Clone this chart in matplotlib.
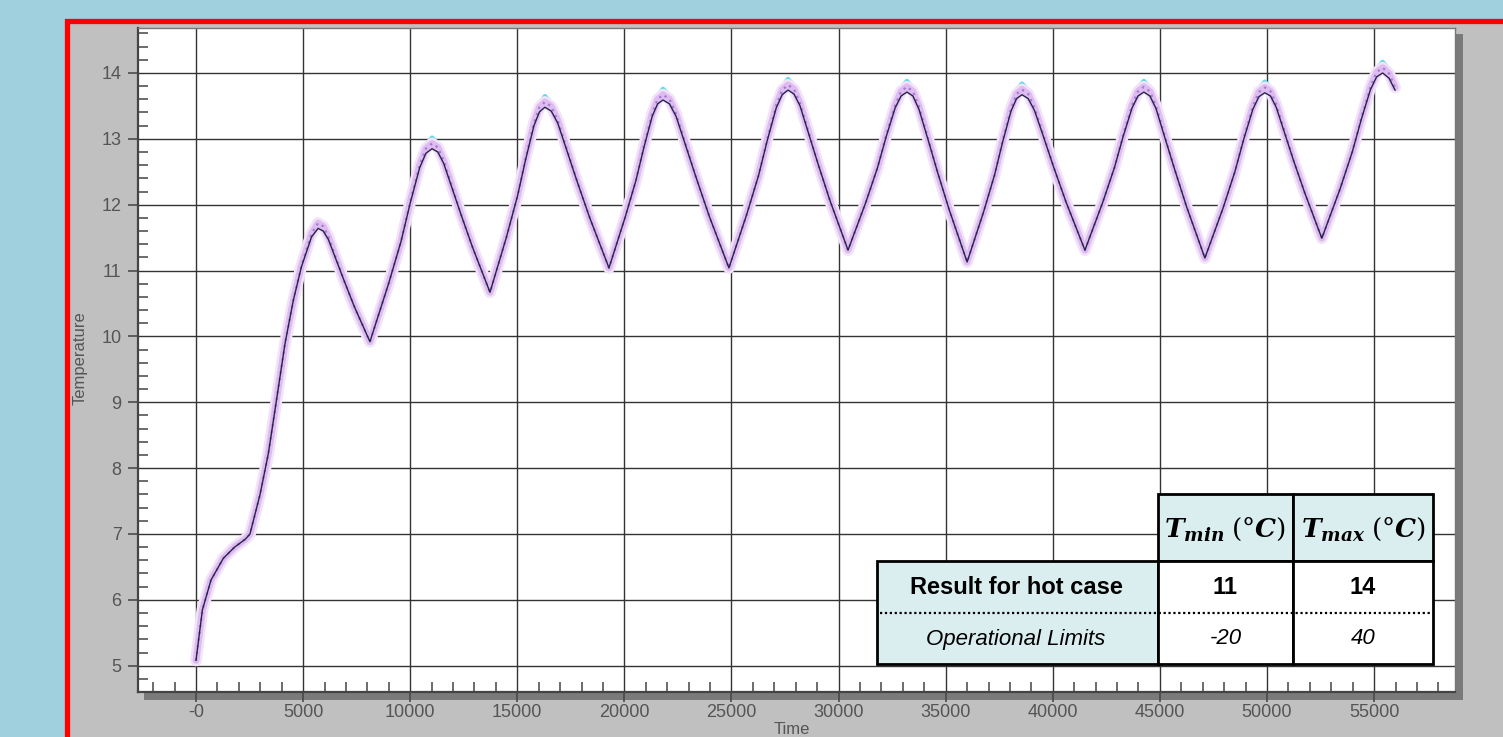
import matplotlib
matplotlib.use("Agg")
import matplotlib.pyplot as plt
from matplotlib.patches import Rectangle
from matplotlib.ticker import MultipleLocator, FuncFormatter

plt.rcParams["font.family"] = ["Liberation Sans", "DejaVu Sans"]
plt.rcParams["mathtext.fontset"] = "dejavuserif"

# simulation time (s) and node temperatures
TIME_S = [
    0, 300, 700, 1275, 1800, 2300, 2520, 2990, 3377, 3757, 4155, 4545, 4925, 5392,
    5700, 5942, 6184, 6547, 6910, 7394, 8120, 8990, 9570, 10005, 10440, 10730,
    11020, 11290, 11561, 11967, 12373, 12914, 13725, 14495, 15008, 15392, 15777, 16034,
    16290, 16589, 16888, 17337, 17785, 18383, 19280, 20036, 20540, 20918, 21296, 21548,
    21800, 22108, 22416, 22878, 23340, 23956, 24880, 25708, 26260, 26674, 27088, 27364,
    27640, 27920, 28200, 28620, 29040, 29600, 30440, 31265, 31815, 32228, 32640, 32915,
    33190, 33471, 33752, 34174, 34595, 35157, 36000, 36768, 37280, 37664, 38048, 38304,
    38560, 38854, 39148, 39589, 40030, 40618, 41500, 42325, 42875, 43288, 43700, 43975,
    44250, 44535, 44820, 45248, 45675, 46245, 47100, 47940, 48500, 48920, 49340, 49620,
    49900, 50166, 50432, 50831, 51230, 51762, 52560, 53412, 53980, 54406, 54832, 55116,
    55400, 55700, 55980,
]
T_DARK = [
    5.08, 5.85, 6.30, 6.63, 6.80, 6.92, 7.00, 7.60, 8.22, 9.03, 9.89, 10.55, 11.06, 11.51,
    11.64, 11.60, 11.47, 11.16, 10.85, 10.45, 9.92, 10.80, 11.44, 12.03, 12.56, 12.78,
    12.85, 12.80, 12.63, 12.24, 11.85, 11.35, 10.67, 11.51, 12.13, 12.69, 13.20, 13.41,
    13.48, 13.42, 13.24, 12.80, 12.36, 11.80, 11.04, 11.81, 12.37, 12.88, 13.34, 13.53,
    13.59, 13.53, 13.34, 12.88, 12.42, 11.83, 11.04, 11.85, 12.44, 12.98, 13.47, 13.67,
    13.74, 13.68, 13.50, 13.06, 12.62, 12.06, 11.31, 12.03, 12.56, 13.04, 13.47, 13.65,
    13.71, 13.65, 13.45, 12.99, 12.52, 11.93, 11.13, 11.89, 12.45, 12.96, 13.42, 13.61,
    13.67, 13.61, 13.43, 13.01, 12.58, 12.04, 11.31, 12.03, 12.56, 13.04, 13.47, 13.65,
    13.71, 13.65, 13.46, 13.00, 12.55, 11.97, 11.19, 11.94, 12.50, 13.00, 13.45, 13.64,
    13.70, 13.65, 13.48, 13.08, 12.68, 12.18, 11.49, 12.24, 12.80, 13.30, 13.75, 13.94,
    14.00, 13.92, 13.74,
]
T_BAND = [
    5.08, 5.85, 6.30, 6.63, 6.80, 6.92, 7.00, 7.60, 8.22, 9.03, 9.89, 10.55, 11.08, 11.56,
    11.72, 11.67, 11.51, 11.18, 10.85, 10.45, 9.92, 10.80, 11.44, 12.05, 12.60, 12.85,
    12.93, 12.87, 12.67, 12.26, 11.85, 11.35, 10.67, 11.51, 12.13, 12.71, 13.24, 13.48,
    13.56, 13.49, 13.28, 12.82, 12.36, 11.80, 11.04, 11.81, 12.37, 12.90, 13.38, 13.60,
    13.67, 13.60, 13.38, 12.90, 12.42, 11.83, 11.04, 11.85, 12.44, 13.00, 13.51, 13.74,
    13.82, 13.75, 13.54, 13.08, 12.62, 12.06, 11.31, 12.03, 12.56, 13.06, 13.51, 13.72,
    13.79, 13.72, 13.49, 13.01, 12.52, 11.93, 11.13, 11.89, 12.45, 12.98, 13.46, 13.68,
    13.75, 13.68, 13.47, 13.03, 12.58, 12.04, 11.31, 12.03, 12.56, 13.06, 13.51, 13.72,
    13.79, 13.72, 13.50, 13.02, 12.55, 11.97, 11.19, 11.94, 12.50, 13.02, 13.49, 13.71,
    13.78, 13.72, 13.52, 13.10, 12.68, 12.18, 11.49, 12.24, 12.80, 13.32, 13.79, 14.01,
    14.08, 13.99, 13.78,
]
T_CYAN = [
    5.08, 5.85, 6.30, 6.63, 6.80, 6.92, 7.00, 7.60, 8.22, 9.03, 9.89, 10.55, 11.08, 11.57,
    11.75, 11.68, 11.51, 11.17, 10.85, 10.45, 9.92, 10.80, 11.44, 12.05, 12.63, 12.91,
    13.02, 12.93, 12.70, 12.26, 11.85, 11.35, 10.67, 11.51, 12.13, 12.71, 13.27, 13.54,
    13.65, 13.55, 13.31, 12.82, 12.36, 11.80, 11.04, 11.81, 12.37, 12.90, 13.41, 13.66,
    13.76, 13.66, 13.41, 12.90, 12.42, 11.83, 11.04, 11.85, 12.44, 13.00, 13.54, 13.80,
    13.91, 13.81, 13.57, 13.08, 12.62, 12.06, 11.31, 12.03, 12.56, 13.06, 13.54, 13.78,
    13.88, 13.78, 13.52, 13.01, 12.52, 11.93, 11.13, 11.89, 12.45, 12.98, 13.49, 13.74,
    13.84, 13.74, 13.50, 13.03, 12.58, 12.04, 11.31, 12.03, 12.56, 13.06, 13.54, 13.78,
    13.88, 13.78, 13.53, 13.02, 12.55, 11.97, 11.19, 11.94, 12.50, 13.02, 13.52, 13.77,
    13.87, 13.78, 13.55, 13.10, 12.68, 12.18, 11.49, 12.24, 12.80, 13.32, 13.82, 14.07,
    14.17, 14.06, 13.83,
]

TABLE_HEADERS = [
    r"$\mathbfit{T}_{\mathbfit{min}}\;(°\mathbfit{C})$",
    r"$\mathbfit{T}_{\mathbfit{max}}\;(°\mathbfit{C})$",
]
TABLE_ROWS = ["Result for hot case", "Operational Limits"]
TABLE_VALUES = [["11", "14"], ["-20", "40"]]

W, H = 1503, 737
fig = plt.figure(figsize=(W / 100, H / 100), dpi=100)
fig.patch.set_facecolor("#a0cfde")

# background slide: grey panel with red frame and plot shadow, in pixel coords
bg = fig.add_axes([0, 0, 1, 1], zorder=0)
bg.set_xlim(0, W)
bg.set_ylim(H, 0)
bg.axis("off")
bg.add_patch(Rectangle((67, 21), W, H, facecolor="#c0c0c0", edgecolor="#ff0000", linewidth=3.8))
bg.add_patch(Rectangle((1455, 34), 8, 666, facecolor="#7a7a7a", edgecolor="none"))
bg.add_patch(Rectangle((144, 692), 1319, 8, facecolor="#7a7a7a", edgecolor="none"))

ax = fig.add_axes([137.5 / W, 1 - 691.7 / H, (1455 - 137.5) / W, (691.7 - 28) / H], zorder=1)
ax.set_facecolor("#ffffff")

ax.plot(TIME_S, T_CYAN, color="#62d8e8", linewidth=3.0, solid_capstyle="round", zorder=3)
ax.plot(TIME_S, T_BAND, color="#f3e3f9", linewidth=8.5, solid_capstyle="round", zorder=4)
ax.plot(TIME_S, T_BAND, color="#dfbcf0", linewidth=5.0, solid_capstyle="round", zorder=5)
ax.plot(TIME_S, T_BAND, color="#a57ad6", linewidth=1.6, linestyle=(0, (1, 2)), zorder=6)
ax.plot(TIME_S, T_DARK, color="#24244a", linewidth=1.0, zorder=7)

ax.set_xlim(-2731, 58777)
ax.set_ylim(4.605, 14.683)
ax.xaxis.set_major_locator(MultipleLocator(5000))
ax.xaxis.set_minor_locator(MultipleLocator(1000))
ax.yaxis.set_major_locator(MultipleLocator(1))
ax.yaxis.set_minor_locator(MultipleLocator(0.2))
ax.xaxis.set_major_formatter(FuncFormatter(lambda v, p: "-0" if v == 0 else f"{int(v)}"))
ax.yaxis.set_major_formatter(FuncFormatter(lambda v, p: f"{int(round(v))}"))

ax.grid(which="major", color="#333333", linewidth=1.0, zorder=1)
ax.set_axisbelow(True)
ax.tick_params(which="major", direction="out", length=7.5, width=1.1, color="#444444",
               labelsize=13, labelcolor="#555555")
ax.tick_params(axis="x", which="major", pad=1.5)
ax.tick_params(axis="y", which="major", pad=4)
ax.tick_params(which="minor", direction="in", length=7.5, width=1.1, color="#444444")
for side in ["left", "bottom"]:
    ax.spines[side].set_color("#444444")
    ax.spines[side].set_linewidth(1.6)
for side in ["top", "right"]:
    ax.spines[side].set_color("#777777")
    ax.spines[side].set_linewidth(1.0)

# overlay in pixel coords for axis titles and the results table
ov = fig.add_axes([0, 0, 1, 1], zorder=2)
ov.set_xlim(0, W)
ov.set_ylim(H, 0)
ov.axis("off")
ov.patch.set_alpha(0)

ov.text(80, 358, "Temperature", rotation=90, ha="center", va="center", fontsize=12, color="#555555")
ov.text(792, 729, "Time", ha="center", va="center", fontsize=12, color="#555555")

fill = "#daeef0"
col_x = [1158, 1293]
col_w = [135, 140]
for x0, w, head in zip(col_x, col_w, TABLE_HEADERS):
    ov.add_patch(Rectangle((x0, 494), w, 67, facecolor=fill, edgecolor="black", linewidth=2.0))
    ov.text(x0 + w / 2, 529, head, ha="center", va="center", fontsize=19, color="black")
ov.add_patch(Rectangle((877, 561), 281, 103, facecolor=fill, edgecolor="black", linewidth=2.0))
for x0, w in zip(col_x, col_w):
    ov.add_patch(Rectangle((x0, 561), w, 103, facecolor="white", edgecolor="black", linewidth=2.0))
ov.plot([880, 1431], [613, 613], color="black", linewidth=1.6, linestyle=(0, (1, 1.2)))

row_y = [587, 639]
for i, (label, y) in enumerate(zip(TABLE_ROWS, row_y)):
    bold = i == 0
    ov.text(1016, y, label, ha="center", va="center", fontsize=17 if bold else 16,
            fontweight="bold" if bold else "normal", fontstyle="normal" if bold else "italic")
    for x0, w, val in zip(col_x, col_w, TABLE_VALUES[i]):
        ov.text(x0 + w / 2, y, val, ha="center", va="center", fontsize=17 if bold else 16,
                fontweight="bold" if bold else "normal", fontstyle="normal" if bold else "italic")

fig.savefig("out.png", dpi=100, facecolor=fig.get_facecolor())
